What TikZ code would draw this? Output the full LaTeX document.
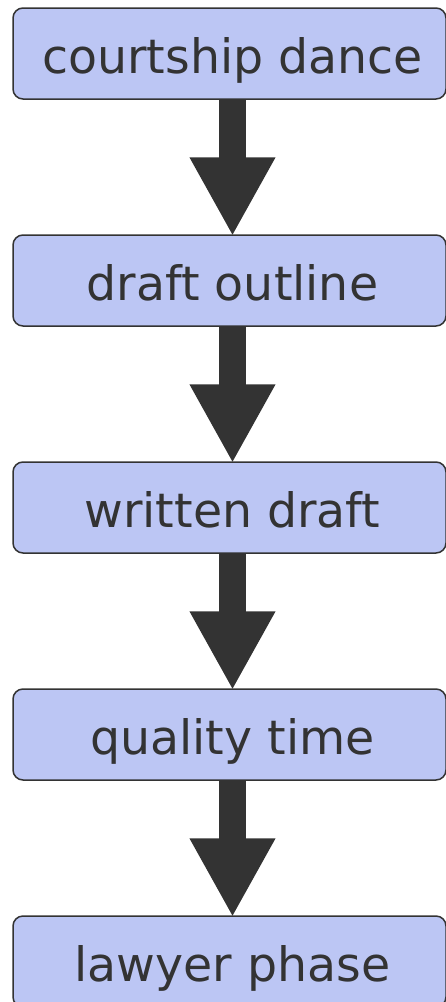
\documentclass[tikz,border=0pt]{standalone}
\usepackage{fontspec}
\setmainfont{DejaVu Sans}
\usetikzlibrary{arrows.meta}
\definecolor{boxfill}{RGB}{188,198,244}
\definecolor{ink}{RGB}{51,51,51}
\begin{document}
\begin{tikzpicture}[x=1pt,y=-1pt,
  stage/.style={draw=ink, line width=1.5pt, fill=boxfill, rounded corners=10pt,
    minimum width=433pt, minimum height=91pt, inner sep=0pt, text=ink,
    font=\fontsize{47.4}{57}\selectfont, text height=48pt, text depth=9pt,
    execute at begin node=\hspace*{6pt}},
  flow/.style={draw=ink, fill=ink, line width=27pt, shorten >=-2pt,
    -{Triangle[width=80pt,length=79pt]}}]
\useasboundingbox (0,0) rectangle (445,1002);
\node[stage] (a) at (229.5,53.5) {courtship dance};
\node[stage] (b) at (229.5,280.5) {draft outline};
\node[stage] (c) at (229.5,507.5) {written draft};
\node[stage] (d) at (229.5,734.5) {quality time};
\node[stage] (e) at (229.5,961.5) {lawyer phase};
\draw[flow] ([xshift=3pt]a.south) -- ([xshift=3pt]b.north);
\draw[flow] ([xshift=3pt]b.south) -- ([xshift=3pt]c.north);
\draw[flow] ([xshift=3pt]c.south) -- ([xshift=3pt]d.north);
\draw[flow] ([xshift=3pt]d.south) -- ([xshift=3pt]e.north);
\end{tikzpicture}
\end{document}
